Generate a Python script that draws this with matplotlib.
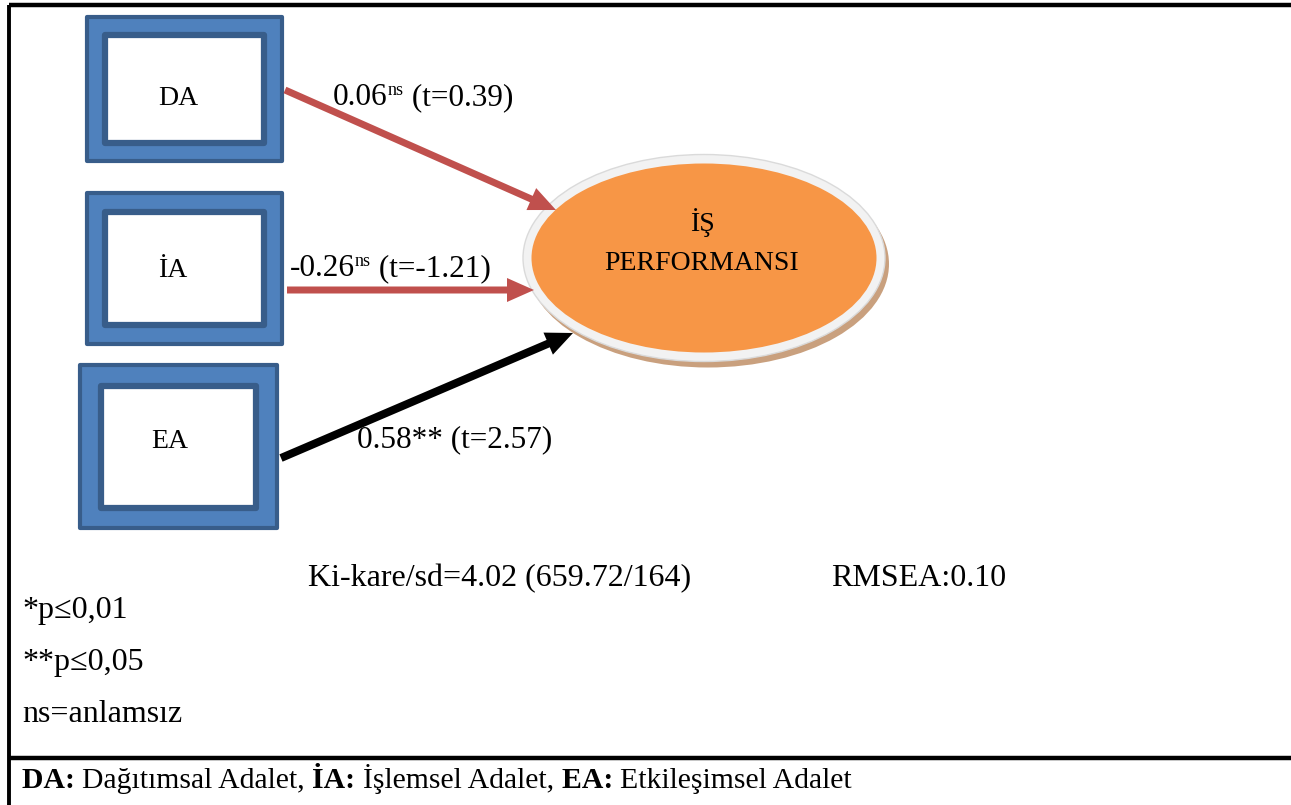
import matplotlib
matplotlib.use("Agg")
import matplotlib.pyplot as plt
from matplotlib.patches import Rectangle, Ellipse, FancyArrow

# veriler
nodes = ["DA", "İA", "EA"]
target = ["İŞ", "PERFORMANSI"]
coef = ["0.06", "-0.26", "0.58"]
sig = ["ns", "ns", "**"]
tval = ["0.39", "-1.21", "2.57"]
fit_chi = "Ki-kare/sd=4.02 (659.72/164)"
fit_rmsea = "RMSEA:0.10"
notes = ["*p≤0,01", "**p≤0,05", "ns=anlamsız"]
legend_abbr = ["DA:", "İA:", "EA:"]
legend_full = ["Dağıtımsal Adalet", "İşlemsel Adalet", "Etkileşimsel Adalet"]

W, H = 1291, 805
FONT = "Liberation Serif"
BLUE = "#4F81BD"
DBLUE = "#385D8A"
RED = "#C0504D"
ORANGE = "#F79646"

fig = plt.figure(figsize=(W / 100, H / 100), dpi=100)
ax = fig.add_axes([0, 0, 1, 1])
ax.set_xlim(0, W)
ax.set_ylim(H, 0)
ax.axis("off")

# cerceve
ax.plot([9, W], [5, 5], color="black", lw=3.2, solid_capstyle="butt")
ax.plot([9, 9], [5, H], color="black", lw=2.8, solid_capstyle="butt")
ax.plot([9, W], [758, 758], color="black", lw=3.2, solid_capstyle="butt")

# kutular (dis, ic, etiket yeri)
boxes = [((87, 17, 195, 144), (105, 35, 159, 108), (178, 105)),
         ((87, 193, 195, 151), (105, 212, 159, 113), (173, 277)),
         ((80, 365, 197, 163), (101, 386, 155, 122), (170, 448))]
for name, (outer, inner, lab) in zip(nodes, boxes):
    x, y, w, h = outer
    ax.add_patch(Rectangle((x, y), w, h, facecolor=BLUE, edgecolor=DBLUE, lw=3, joinstyle="round"))
    x, y, w, h = inner
    ax.add_patch(Rectangle((x, y), w, h, facecolor="white", edgecolor=DBLUE, lw=4.5, joinstyle="round"))
    ax.text(lab[0], lab[1], name, fontsize=20, family=FONT, ha="center", va="baseline")

# elips
cx, cy = 704, 258
ax.add_patch(Ellipse((cx + 4, cy + 6), 362, 207, facecolor="#C9A07E", edgecolor="none"))
ax.add_patch(Ellipse((cx, cy), 362, 207, facecolor="#F2F2F2", edgecolor="#DADADA", lw=1))
ax.add_patch(Ellipse((cx, cy), 345, 189, facecolor=ORANGE, edgecolor="none"))
ax.text(702, 231, target[0], fontsize=20, family=FONT, ha="center", va="baseline")
ax.text(702, 270, target[1], fontsize=20, family=FONT, ha="center", va="baseline")

# oklar
arrows = [((285, 90), (556, 210), RED, 7),
          ((287, 290), (534, 290), RED, 7),
          ((281, 458), (573, 333), "black", 8)]
for (x0, y0), (x1, y1), col, lw in arrows:
    ax.add_patch(FancyArrow(x0, y0, x1 - x0, y1 - y0, width=lw, head_width=24,
                            head_length=27, length_includes_head=True,
                            facecolor=col, edgecolor="none"))

fig.canvas.draw()
renderer = fig.canvas.get_renderer()


def chain(x, y, pieces):
    # pieces: (text, size, weight, dy)
    for s, size, weight, dy in pieces:
        t = ax.text(x, y + dy, s, fontsize=size, family=FONT, fontweight=weight,
                    ha="left", va="baseline")
        bb = t.get_window_extent(renderer)
        x += bb.width


label_pos = [(333, 105), (290, 276), (357, 447)]
for (x, y), c, s, t in zip(label_pos, coef, sig, tval):
    if s == "ns":
        chain(x, y, [(c, 22.5, "normal", 0), (s, 13, "normal", -10), (" (t=" + t + ")", 22.5, "normal", 0)])
    else:
        chain(x, y, [(c + s + " (t=" + t + ")", 22.5, "normal", 0)])

ax.text(308, 586, fit_chi, fontsize=23, family=FONT, ha="left", va="baseline")
ax.text(831, 586, fit_rmsea, fontsize=23, family=FONT, ha="left", va="baseline")

for i, n in enumerate(notes):
    ax.text(22, 618 + 52 * i, n, fontsize=23, family=FONT, ha="left", va="baseline")

pieces = []
for i, (a, f) in enumerate(zip(legend_abbr, legend_full)):
    pieces.append((a + " ", 21.4, "bold", 0))
    pieces.append((f + (", " if i < len(legend_abbr) - 1 else ""), 21.4, "normal", 0))
chain(22, 788, pieces)

fig.savefig("out.png", dpi=100)
